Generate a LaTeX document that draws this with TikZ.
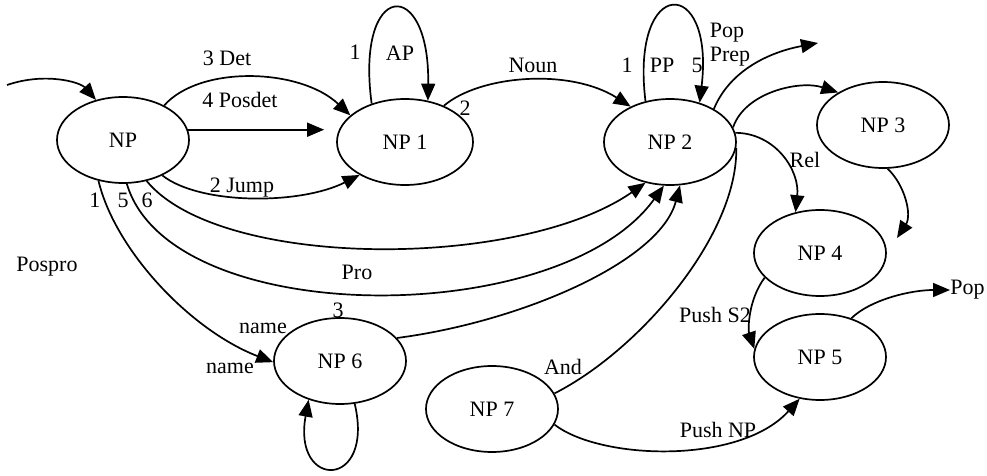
\documentclass[tikz,border=0pt]{standalone}
\usepackage{fontspec}
\setmainfont{Liberation Serif}
\usetikzlibrary{shapes.geometric,arrows.meta}
\begin{document}
\begin{tikzpicture}[x=0.5pt,y=-0.5pt,
  state/.style={ellipse,draw,line width=0.85pt,minimum width=66pt,minimum height=43pt,inner sep=0pt,font=\fontsize{11}{13}\selectfont},
  lbl/.style={inner sep=0pt,font=\fontsize{11}{13}\selectfont},
  edge/.style={line width=0.85pt},
  arr/.style={line width=0.85pt,-{Triangle[length=8.5pt,width=7pt]}}]
\useasboundingbox (0,0) rectangle (987,476);
% states
\node[state] (NP)  at (123,140) {NP};
\node[state,minimum width=68pt] (NP1) at (405,142) {NP 1};
\node[state] (NP2) at (670,142) {NP 2};
\node[state] (NP3) at (883,125) {NP 3};
\node[state] (NP4) at (820,253) {NP 4};
\node[state] (NP5) at (820,357) {NP 5};
\node[state] (NP6) at (340,361) {NP 6};
\node[state] (NP7) at (492,409) {NP 7};
\coordinate (start) at (7,85);
\coordinate (out2) at (818,43);
\coordinate (c3) at (897,238);
\node[lbl,anchor=west] (pop) at (950,290) {Pop};
% edges
\draw[arr] (start) .. controls (45,72) and (80,82) .. (NP.124);
\draw[arr] (NP.40) .. controls (200,65) and (300,68) .. (NP1.154);
\draw[arr,shorten >=6pt] (NP.9) -- (NP.9 -| NP1.west);
\draw[arr] (NP.-42) .. controls (200,205) and (300,205) .. (NP1.-144);
\draw[arr] (NP1.131) .. controls (355,-20) and (430,-25) .. (NP1.61);
\draw[arr] (NP1.43) .. controls (480,75) and (570,68) .. (NP2.138);
\draw[arr] (NP2.121) .. controls (630,-25) and (715,-25) .. (NP2.53);
\draw[arr] (NP2.37) .. controls (730,70) and (770,52) .. (out2);
\draw[arr] (NP2.13) .. controls (745,92) and (800,80) .. (NP3.144);
\draw[arr] (NP2.8) .. controls (775,133) and (800,170) .. (NP4.121);
\draw[arr] (NP3.-84) .. controls (905,185) and (912,215) .. (c3);
\draw[arr] (NP4.-156) .. controls (748,300) and (748,330) .. (NP5.173);
\draw[arr] (NP5.51) .. controls (870,300) and (910,290) .. (pop.west);
\draw[edge] (NP7.14) .. controls (640,350) and (738,235) .. (NP2.-5);
\draw[arr] (NP7.-14) .. controls (600,460) and (740,465) .. (NP5.-116);
\draw[arr] (NP6.-71) .. controls (375,490) and (292,490) .. (NP6.-129);
\draw[arr] (NP6.22) .. controls (520,322) and (660,262) .. (NP2.-77);
\draw[arr] (NP.-121) .. controls (115,250) and (190,330) .. (NP6.181);
\draw[arr] (NP.-85) .. controls (170,330) and (560,330) .. (NP2.-98);
\draw[arr] (NP.-60) .. controls (220,270) and (520,270) .. (NP2.-121);
% labels
\node[lbl] (l1) at (227,58) {3 Det};
\node[lbl] (l2) at (240,100) {4 Posdet};
\node[lbl] (l3) at (242,188) {2 Jump};
\node[lbl] (l4) at (355,52) {1};
\node[lbl] (l5) at (400,53) {AP};
\node[lbl] (l6) at (465,108) {2};
\node[lbl] (l7) at (533,65) {Noun};
\node[lbl] (l8) at (627,65) {1};
\node[lbl] (l9) at (662,65) {PP};
\node[lbl] (l10) at (697,65) {5};
\node[lbl] (l11) at (727,33) {Pop};
\node[lbl] (l12) at (730,57) {Prep};
\node[lbl] (l13) at (805,160) {Rel};
\node[lbl] (l14) at (715,315) {Push S2};
\node[lbl] (l15) at (563,367) {And};
\node[lbl] (l16) at (718,430) {Push NP};
\node[lbl] (l17) at (47,267) {Pospro};
\node[lbl] (l18) at (357,272) {Pro};
\node[lbl] (l19) at (338,310) {3};
\node[lbl] (l20) at (263,328) {name};
\node[lbl] (l21) at (230,368) {name};
\node[lbl] (l22) at (95,200) {1};
\node[lbl] (l23) at (123,200) {5};
\node[lbl] (l24) at (147,200) {6};
\end{tikzpicture}
\end{document}
